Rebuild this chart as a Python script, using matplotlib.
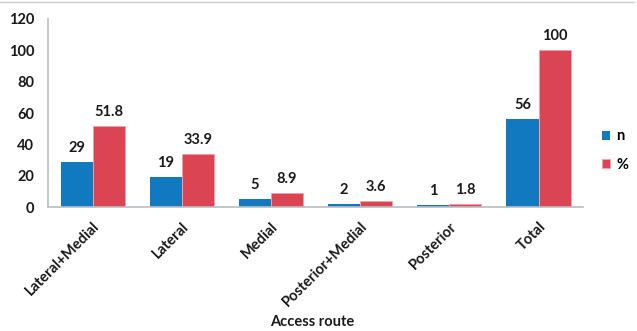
import matplotlib
matplotlib.use("Agg")
import matplotlib.pyplot as plt
import numpy as np
from matplotlib.lines import Line2D

categories = ["Lateral+Medial", "Lateral", "Medial", "Posterior+Medial", "Posterior", "Total"]
n_values = [29, 19, 5, 2, 1, 56]
pct_values = [51.8, 33.9, 8.9, 3.6, 1.8, 100]
n_labels = ["29", "19", "5", "2", "1", "56"]
pct_labels = ["51.8", "33.9", "8.9", "3.6", "1.8", "100"]
yticks = [0, 20, 40, 60, 80, 100, 120]

plt.rcParams['font.family'] = ['Lato', 'DejaVu Sans']
plt.rcParams['font.weight'] = 'bold'

blue = "#1079C0"
red = "#DB4452"
txt = "#1a1a1a"

fig = plt.figure(figsize=(6.37, 3.31), dpi=100)
ax = fig.add_axes([0.0754, 0.3746, 0.840, 0.568])

x = np.arange(len(categories))
w = 0.36
b1 = ax.bar(x - w/2, n_values, w, color=blue, label="n")
b2 = ax.bar(x + w/2, pct_values, w, color=red, edgecolor="#F2A0A8", linewidth=0.6, label="%")

for rect, lab in zip(b1, n_labels):
    ax.annotate(lab, (rect.get_x() + rect.get_width()/2, rect.get_height()),
                xytext=(0, 5), textcoords="offset points", ha="center", va="bottom",
                fontsize=10.5, fontweight="bold", color=txt)
for rect, lab in zip(b2, pct_labels):
    ax.annotate(lab, (rect.get_x() + rect.get_width()/2, rect.get_height()),
                xytext=(0, 5), textcoords="offset points", ha="center", va="bottom",
                fontsize=10.5, fontweight="bold", color=txt)

ax.set_xlim(-0.5, len(categories) - 0.5)
ax.set_ylim(0, 120)
ax.set_yticks(yticks)
ax.set_yticklabels([str(t) for t in yticks], fontsize=10.5, fontweight="bold", color=txt)
ax.set_xticks(x)
ax.set_xticklabels(categories, rotation=45, ha="right", rotation_mode="anchor",
                   fontsize=10.5, fontweight="bold", color=txt)
ax.tick_params(axis="y", length=0, pad=10)
ax.tick_params(axis="x", length=0, pad=9)

for s in ["top", "right"]:
    ax.spines[s].set_visible(False)
ax.spines["left"].set_color("#B8BEC4")
ax.spines["bottom"].set_color("#B8BEC4")
ax.spines["left"].set_linewidth(1.2)
ax.spines["bottom"].set_linewidth(1.2)

fig.text(0.49, 0.028, "Access route", ha="center", va="center",
         fontsize=10.5, fontweight="bold", color=txt)

leg = ax.legend(loc="center left", bbox_to_anchor=(1.01, 0.3), frameon=False,
                fontsize=10.5, handlelength=0.6, handleheight=0.6, handletextpad=0.4,
                labelspacing=1.0)
for t in leg.get_texts():
    t.set_fontweight("bold")

fig.add_artist(Line2D([0, 0.995], [0.994, 0.994], transform=fig.transFigure,
                      color="#C8CCD0", linewidth=1.0))

fig.savefig("out.png", dpi=100)
